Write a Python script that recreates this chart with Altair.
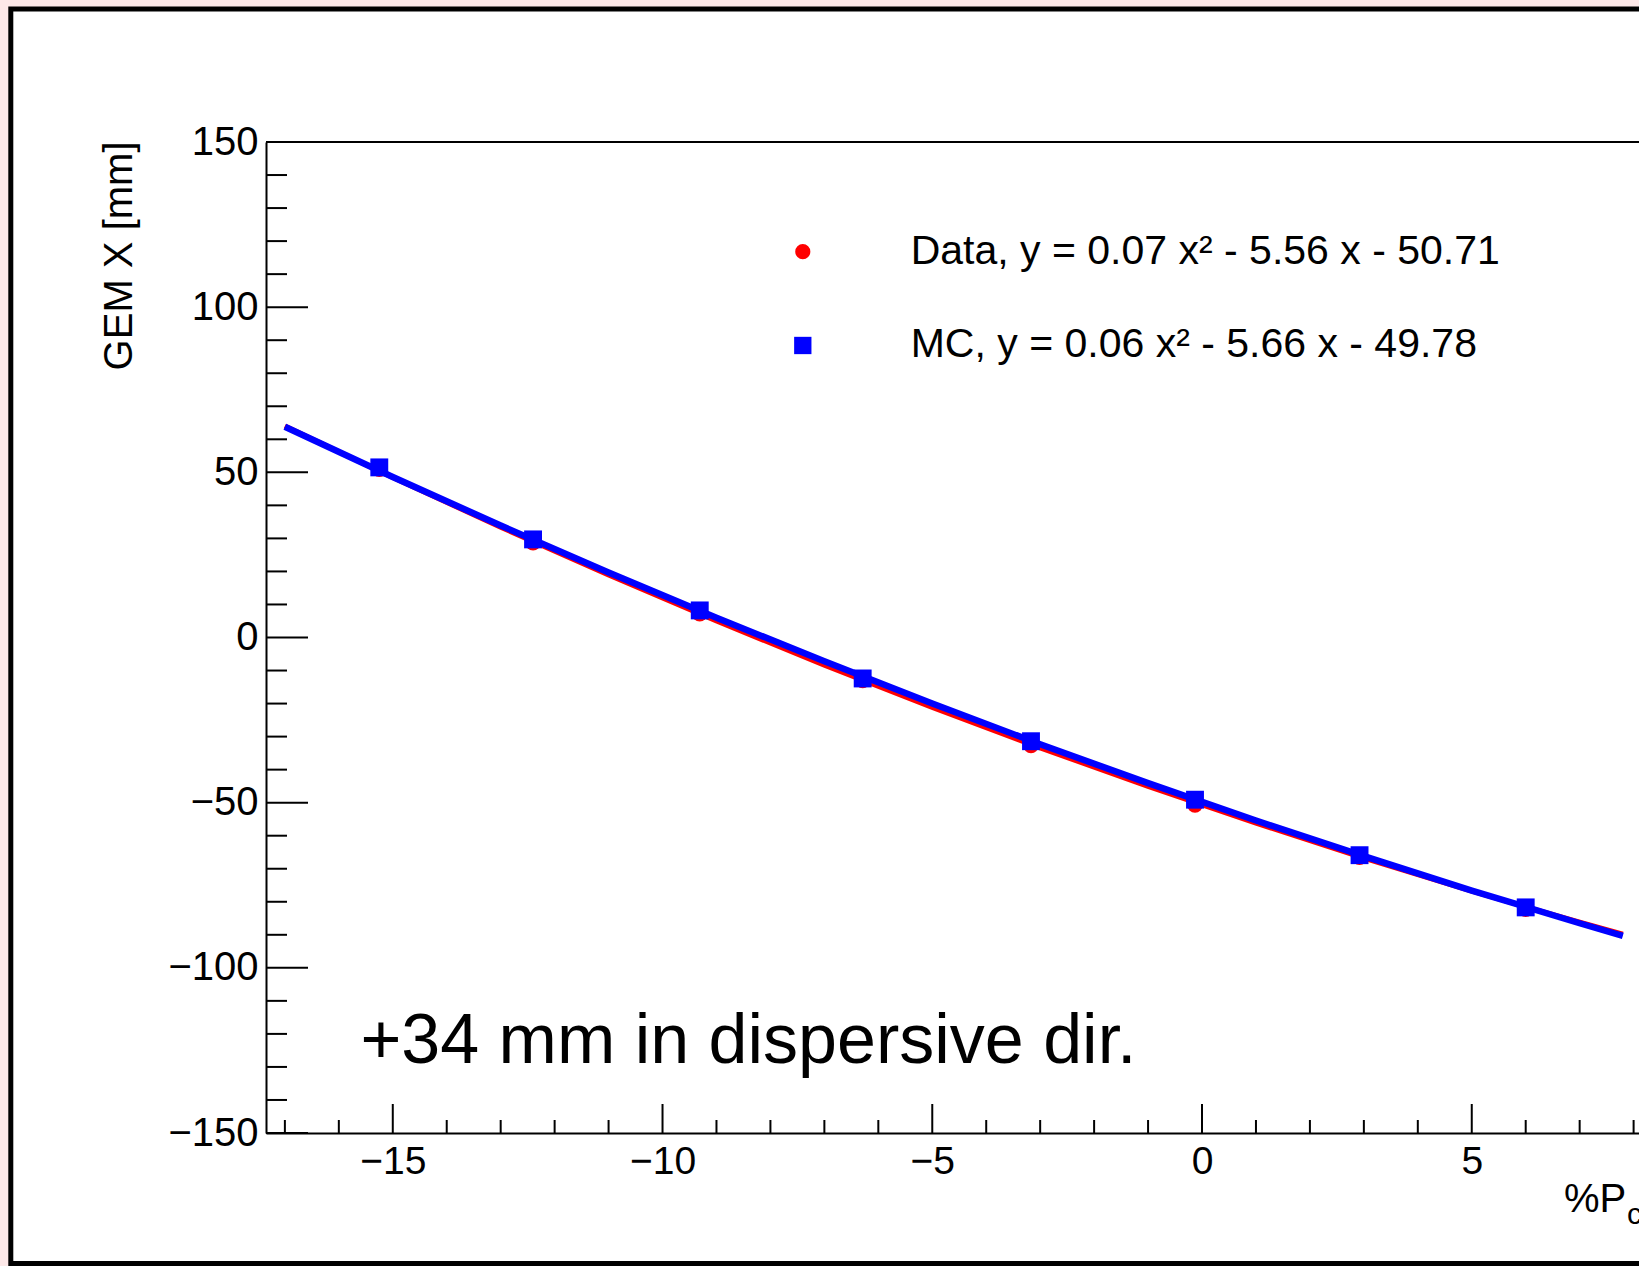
import altair as alt
import pandas as pd

# ---------------- data ----------------
pt_x = [-15.25, -12.40, -9.31, -6.29, -3.17, -0.13, 2.92, 6.00]
data_y = [50.9, 28.7, 7.2, -13.0, -32.7, -50.7, -66.5, -82.3]
mc_y = [51.5, 29.7, 8.2, -12.4, -31.4, -49.1, -65.9, -81.7]

fit_x = [-17, -15, -13, -11, -9, -7, -5, -3, -1, 1, 3, 5, 7, 7.8]
fit_data_y = [64.0, 48.4, 33.4, 18.9, 5.0, -8.4, -21.2, -33.4, -45.1, -56.2, -66.8, -76.8, -86.2, -89.8]
fit_mc_y = [63.8, 48.6, 33.9, 19.7, 6.0, -7.2, -20.0, -32.3, -44.1, -55.4, -66.2, -76.6, -86.5, -90.3]

x_major = [-15, -10, -5, 0, 5]
x_minor = [-17, -16, -14, -13, -12, -11, -9, -8, -7, -6, -4, -3, -2, -1, 1, 2, 3, 4, 6, 7, 8]
y_major = [-150, -100, -50, 0, 50, 100, 150]
y_minor = [v for v in range(-140, 150, 10) if v % 50 != 0]

legend_labels = ["Data, y = 0.07 x\u00b2 - 5.56 x - 50.71", "MC, y = 0.06 x\u00b2 - 5.66 x - 49.78"]
legend_y = [116.8, 88.4]
legend_marker_x = -7.40
legend_text_x = -5.40

note_text = "+34 mm in dispersive dir."
note_x = -15.6
note_y = -128.8

RED = "#ff0000"
BLUE = "#0000ff"
FONT = "Liberation Sans"

W, H = 1373, 991
PAD_L, PAD_T = 266, 142

xscale = alt.Scale(domain=[-17.35, 8.10], nice=False, zero=False)
yscale = alt.Scale(domain=[-150, 150], nice=False, zero=False)

xaxis = alt.Axis(values=x_major, format="d", ticks=False, grid=False, domain=True,
                 domainColor="black", domainWidth=2, labelFontSize=39, labelFont=FONT,
                 labelColor="black", labelPadding=9, title="", labelFlush=False, zindex=2)
yaxis = alt.Axis(values=y_major, format="d", ticks=False, grid=False, domain=True,
                 domainColor="black", domainWidth=2, labelFontSize=40, labelFont=FONT,
                 labelColor="black", labelPadding=8, title="GEM X [mm]",
                 titleFont=FONT, titleFontSize=40, titleFontWeight="normal", titleColor="black",
                 titleAngle=-90, titleAlign="right", titleBaseline="middle",
                 titleX=-147, titleY=-1, zindex=2)


def X(f="x"):
    return alt.X(f"{f}:Q", scale=xscale, axis=xaxis)


def Y(f="y"):
    return alt.Y(f"{f}:Q", scale=yscale, axis=yaxis)


one = pd.DataFrame({"k": [0]})

# outer canvas frame (white pad with black border)
outer = alt.Chart(one).mark_rect(fill="white", stroke="black", strokeWidth=5).encode(
    x=alt.value(10.8 - PAD_L), x2=alt.value(2000),
    y=alt.value(9 - PAD_T), y2=alt.value(1263.5 - PAD_T))

# top frame line of plot area
top_line = alt.Chart(one).mark_rule(color="black", strokeWidth=2).encode(
    x=alt.value(0), x2=alt.value(W + 20), y=alt.value(0))

# inward ticks
xt_major = alt.Chart(pd.DataFrame({"x": x_major})).mark_rule(color="black", strokeWidth=2).encode(
    x=X(), y=alt.value(H), y2=alt.value(H - 29))
xt_minor = alt.Chart(pd.DataFrame({"x": x_minor})).mark_rule(color="black", strokeWidth=2).encode(
    x=X(), y=alt.value(H), y2=alt.value(H - 13))
yt_major = alt.Chart(pd.DataFrame({"y": y_major})).mark_rule(color="black", strokeWidth=2).encode(
    y=Y(), x=alt.value(0), x2=alt.value(42))
yt_minor = alt.Chart(pd.DataFrame({"y": y_minor})).mark_rule(color="black", strokeWidth=2).encode(
    y=Y(), x=alt.value(0), x2=alt.value(21))

# fits
df_fit_data = pd.DataFrame({"x": fit_x, "y": fit_data_y})
df_fit_mc = pd.DataFrame({"x": fit_x, "y": fit_mc_y})
line_data = alt.Chart(df_fit_data).mark_line(color=RED, strokeWidth=5).encode(x=X(), y=Y())
line_mc = alt.Chart(df_fit_mc).mark_line(color=BLUE, strokeWidth=6.5).encode(x=X(), y=Y())

# points
pts_data = alt.Chart(pd.DataFrame({"x": pt_x, "y": data_y})).mark_point(
    shape="circle", filled=True, color=RED, size=240, opacity=1).encode(x=X(), y=Y())
pts_mc = alt.Chart(pd.DataFrame({"x": pt_x, "y": mc_y})).mark_point(
    shape="square", filled=True, color=BLUE, size=320, opacity=1).encode(x=X(), y=Y())

# legend
leg_c = alt.Chart(pd.DataFrame({"x": [legend_marker_x], "y": [legend_y[0]]})).mark_point(
    shape="circle", filled=True, color=RED, size=230, opacity=1).encode(x=X(), y=Y())
leg_s = alt.Chart(pd.DataFrame({"x": [legend_marker_x], "y": [legend_y[1]]})).mark_point(
    shape="square", filled=True, color=BLUE, size=300, opacity=1).encode(x=X(), y=Y())
leg_t = alt.Chart(pd.DataFrame({"x": [legend_text_x] * 2, "y": legend_y, "t": legend_labels})).mark_text(
    align="left", baseline="middle", font=FONT, fontSize=41, color="black").encode(
    x=X(), y=Y(), text="t:N")

# annotation
note = alt.Chart(pd.DataFrame({"x": [note_x], "y": [note_y], "t": [note_text]})).mark_text(
    align="left", baseline="alphabetic", font=FONT, fontSize=70, color="black").encode(
    x=X(), y=Y(), text="t:N")

# x axis title (cut at right edge in the reference)
xt1 = alt.Chart(one).mark_text(align="left", baseline="alphabetic", font=FONT, fontSize=40,
                               color="black", text="%P").encode(
    x=alt.value(1564 - PAD_L), y=alt.value(1212 - PAD_T))
xt2 = alt.Chart(one).mark_text(align="left", baseline="alphabetic", font=FONT, fontSize=30,
                               color="black", text="c").encode(
    x=alt.value(1627 - PAD_L), y=alt.value(1224 - PAD_T))

chart = alt.layer(
    outer, top_line, xt_minor, xt_major, yt_minor, yt_major,
    line_data, pts_data, line_mc, pts_mc,
    leg_c, leg_s, leg_t, note, xt1, xt2
).properties(
    width=W, height=H,
    autosize=alt.AutoSizeParams(type="none"),
    padding={"left": PAD_L, "top": PAD_T, "right": 0, "bottom": 1266 - PAD_T - H},
    background="#fde8e8",
).configure_view(strokeWidth=0, fill="white").configure(font=FONT)

chart.save("out.html", embed_options={"renderer": "svg", "actions": False})
